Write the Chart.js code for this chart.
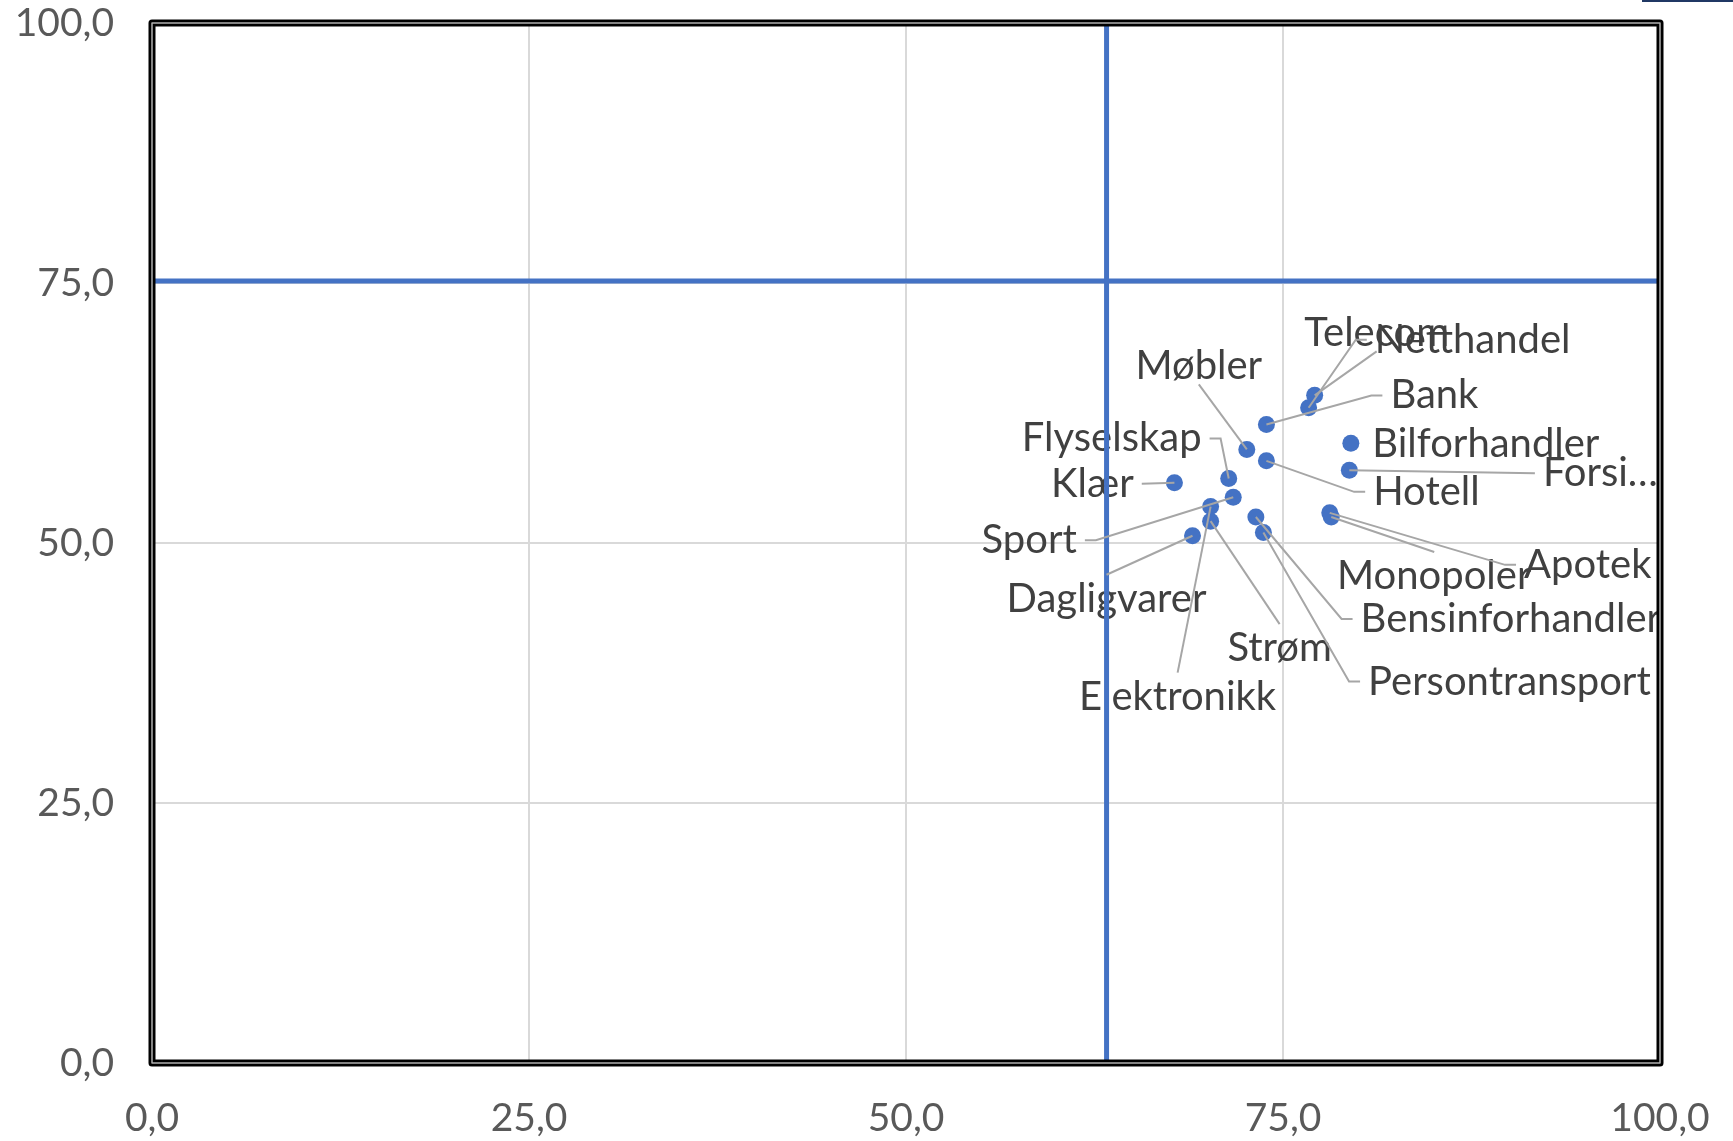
<!DOCTYPE html>
<html>
<head>
<meta charset="utf-8">
<script src="https://cdn.jsdelivr.net/npm/chart.js@4.4.1/dist/chart.umd.min.js"></script>
<style>
  html, body { margin: 0; padding: 0; background: #fff; }
  #wrap { position: relative; width: 1733px; height: 1141px; }
  #corner { position: absolute; top: 0; left: 1642px; width: 91px; height: 2px; background: #203864; }
</style>
</head>
<body>
<div id="wrap">
  <canvas id="chart" width="1733" height="1141"></canvas>
  <div id="corner"></div>
</div>
<script>
// bransjer og verdier lest av figuren
const categories = ['Telecom', 'Netthandel', 'Bank', 'Møbler', 'Hotell', 'Bilforhandler', 'Forsikring',
    'Klær', 'Flyselskap', 'Sport', 'Elektronikk', 'Strøm', 'Dagligvarer', 'Bensinforhandler',
    'Persontransport', 'Apotek', 'Monopoler'];
const labelTexts = ['Telecom', 'Netthandel', 'Bank', 'Møbler', 'Hotell', 'Bilforhandler', 'Forsi…',
    'Klær', 'Flyselskap', 'Sport', 'Elektronikk', 'Strøm', 'Dagligvarer', 'Bensinforhandler',
    'Persontransport', 'Apotek', 'Monopoler'];
const xValues = [77.1, 76.7, 73.9, 72.6, 73.9, 79.5, 79.4, 67.8, 71.4, 71.7, 70.2, 70.2, 69.0, 73.2, 73.7, 78.1, 78.2];
const yValues = [64.2, 63.0, 61.4, 59.0, 57.9, 59.6, 57.0, 55.8, 56.2, 54.4, 53.5, 52.1, 50.7, 52.5, 51.0, 52.9, 52.5];
const refX = 63.3;   // loddrett skillelinje
const refY = 75.2;   // vannrett skillelinje
const tickValues = [0, 25, 50, 75, 100];

// plassering av etiketter: forskyvning fra punktet (px) og hvor ledelinjen festes
const labelLayout = [
    [62, -62, 'bottom'], [164, -68, 'left'], [168, -29, 'left'], [-48, -83, 'bottom'],
    [160, 31, 'left'], [135, 1, 'none'], [251, 3, 'left'], [-82, 1, 'right'],
    [-117, -40, 'right'], [-204, 43, 'right'], [-33, 190, 'top'], [69, 127, 'top'],
    [-86, 63, 'top'], [255, 102, 'left'], [246, 149, 'left'], [258, 52, 'left'], [103, 59, 'top']
];

const BLUE = '#4472c4';
const FONT = 'Lato, "Noto Sans", sans-serif';
const LABEL_SIZE = 40;

const fmt = v => v.toFixed(1).replace('.', ',');

function labelBoxes(chart) {
    const ctx = chart.ctx;
    const xs = chart.scales.x, ys = chart.scales.y;
    ctx.font = LABEL_SIZE + 'px ' + FONT;
    return labelTexts.map((t, i) => {
        const px = xs.getPixelForValue(xValues[i]);
        const py = ys.getPixelForValue(yValues[i]);
        const [dx, dy, side] = labelLayout[i];
        const w = ctx.measureText(t).width;
        return { t, px, py, cx: px + dx, cy: py + dy, w, side };
    });
}

const labelPlugin = {
    id: 'labels',
    beforeDatasetsDraw(chart) {
        const ctx = chart.ctx;
        ctx.save();
        ctx.font = LABEL_SIZE + 'px ' + FONT;
        ctx.fillStyle = '#404040';
        ctx.textAlign = 'center';
        ctx.textBaseline = 'middle';
        labelBoxes(chart).forEach(b => ctx.fillText(b.t, b.cx, b.cy));
        ctx.restore();
    },
    afterDatasetsDraw(chart) {
        const ctx = chart.ctx;
        ctx.save();
        ctx.strokeStyle = '#a6a6a6';
        ctx.lineWidth = 2;
        labelBoxes(chart).forEach(b => {
            if (b.side === 'none') return;
            ctx.beginPath();
            if (b.side === 'left') {
                const sx = b.cx - b.w / 2 - 8;
                ctx.moveTo(sx, b.cy);
                if (Math.abs(b.cy - b.py) > 6) ctx.lineTo(sx - 11, b.cy);
            } else if (b.side === 'right') {
                const sx = b.cx + b.w / 2 + 8;
                ctx.moveTo(sx, b.cy);
                if (Math.abs(b.cy - b.py) > 6) ctx.lineTo(sx + 11, b.cy);
            } else if (b.side === 'top') {
                ctx.moveTo(b.cx, b.cy - 24);
            } else {
                ctx.moveTo(b.cx, b.cy + 18);
            }
            ctx.lineTo(b.px, b.py);
            ctx.stroke();
        });
        ctx.restore();
    },
    afterDraw(chart) {
        // dobbel ramme rundt plottet
        const { left, right, top, bottom } = chart.chartArea;
        const ctx = chart.ctx;
        ctx.save();
        ctx.strokeStyle = '#000';
        ctx.lineWidth = 7;
        ctx.lineJoin = 'round';
        ctx.strokeRect(left, top, right - left, bottom - top);
        ctx.strokeStyle = '#b0b0b0';
        ctx.lineWidth = 1.5;
        ctx.strokeRect(left, top, right - left, bottom - top);
        ctx.restore();
    }
};

new Chart(document.getElementById('chart'), {
    type: 'scatter',
    data: {
        datasets: [
            {
                type: 'line',
                data: [{ x: refX, y: 0 }, { x: refX, y: 100 }],
                borderColor: BLUE, borderWidth: 5, pointRadius: 0, clip: false
            },
            {
                type: 'line',
                data: [{ x: 0, y: refY }, { x: 100, y: refY }],
                borderColor: BLUE, borderWidth: 5, pointRadius: 0, clip: false
            },
            {
                label: 'Bransjer',
                data: categories.map((c, i) => ({ x: xValues[i], y: yValues[i] })),
                backgroundColor: BLUE,
                borderWidth: 0,
                pointRadius: 8.5,
                pointHoverRadius: 8.5
            }
        ]
    },
    options: {
        responsive: false,
        animation: false,
        devicePixelRatio: 1,
        layout: { padding: { top: 23, right: 73, left: 0, bottom: 0 } },
        plugins: { legend: { display: false }, tooltip: { enabled: false } },
        scales: {
            x: {
                type: 'linear', min: 0, max: 100,
                afterBuildTicks: s => { s.ticks = tickValues.map(v => ({ value: v })); },
                afterFit: s => { s.height = 78; s.paddingLeft = 0; s.paddingRight = 0; },
                grid: { color: '#d9d9d9', lineWidth: 2, drawTicks: false },
                border: { display: false },
                ticks: { callback: fmt, color: '#595959', font: { family: FONT, size: 39 }, padding: 32, maxRotation: 0 }
            },
            y: {
                type: 'linear', min: 0, max: 100,
                afterBuildTicks: s => { s.ticks = tickValues.map(v => ({ value: v })); },
                afterFit: s => { s.width = 152; s.paddingTop = 0; s.paddingBottom = 0; },
                grid: { color: '#d9d9d9', lineWidth: 2, drawTicks: false },
                border: { display: false },
                ticks: { callback: fmt, color: '#595959', font: { family: FONT, size: 39 }, padding: 38 }
            }
        }
    },
    plugins: [labelPlugin]
});
</script>
</body>
</html>
